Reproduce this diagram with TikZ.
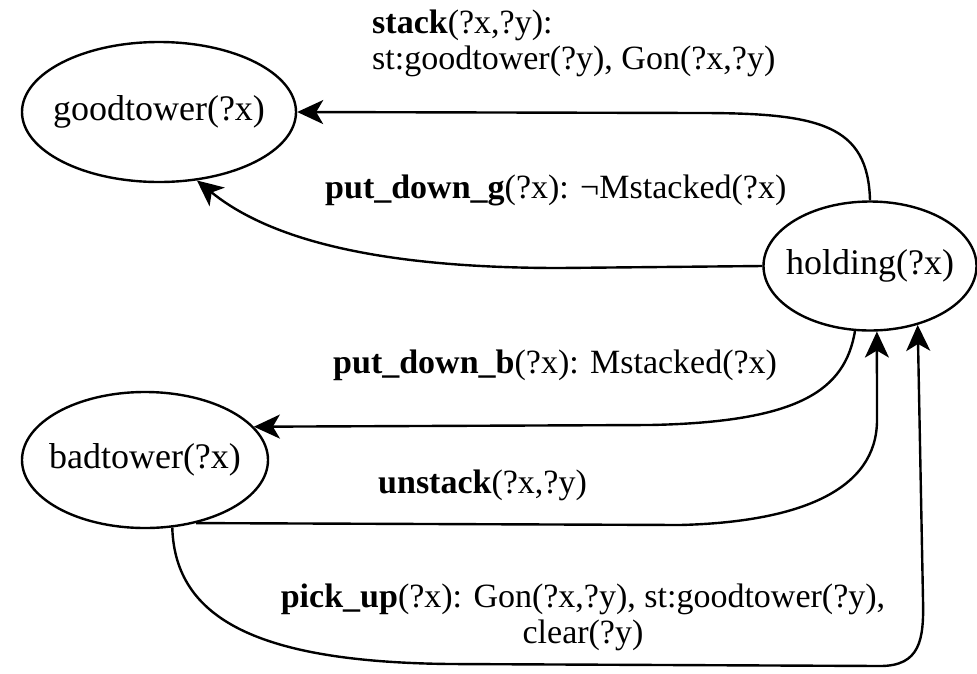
\documentclass[tikz,border=0pt]{standalone}
\usepackage{fontspec}
\setmainfont{Liberation Serif}
\usetikzlibrary{shapes.geometric,arrows.meta}
\newcommand\zw[1]{\makebox[0pt]{#1}}
\begin{document}
\begin{tikzpicture}[x=1pt,y=-1pt,
  state/.style={draw,ellipse,line width=2.4pt,inner sep=0pt,
    font=\fontsize{36}{40}\selectfont},
  arr/.style={line width=2.4pt,-{Stealth[length=26pt,width=24pt,inset=7pt]}},
  lbl/.style={inner sep=0pt,font=\fontsize{34}{36}\selectfont}]
\useasboundingbox (0,0) rectangle (977,673);

% states
\node[state,minimum width=274pt,minimum height=140pt] (gt) at (159,112) {\zw{goodtower(?x)}};
\node[state,minimum width=213pt,minimum height=129pt] (ho) at (870,266) {\zw{holding(?x)}};
\node[state,minimum width=246pt,minimum height=136pt] (bt) at (145,460) {\zw{badtower(?x)}};

% transitions
\draw[arr] (ho.north) .. controls (868,125) and (820,113) .. (700,113) -- (gt.east);
\draw[arr] (ho.west) -- (560,268) .. controls (380,268) and (270,240) .. (gt.-61);
\draw[arr] (ho.-103) .. controls (845,390) and (800,422) .. (650,425) -- (bt.17);
\draw[arr] (bt.-51) -- (680,525) .. controls (800,522) and (877,490) .. (877,420) -- (ho.-84);
\draw[arr] (bt.-68) .. controls (175,620) and (260,662) .. (450,664) -- (880,666)
  .. controls (920,666) and (924,640) .. (923,600) -- (ho.-51);

% transition labels
\node[lbl,anchor=west,align=left] (lstack) at (372,43)
  {\textbf{stack}(?x,?y):\\st:goodtower(?y), Gon(?x,?y)};
\node[lbl,anchor=west] (lpdg) at (325,190) {\textbf{put\_down\_g}(?x): ¬Mstacked(?x)};
\node[lbl,anchor=west] (lpdb) at (333,365) {\textbf{put\_down\_b}(?x): Mstacked(?x)};
\node[lbl,anchor=west] (lun) at (378,485) {\textbf{unstack}(?x,?y)};
\node[lbl,align=center] (lpick) at (583,617)
  {\textbf{pick\_up}(?x): Gon(?x,?y), st:goodtower(?y),\\clear(?y)};
\end{tikzpicture}
\end{document}
